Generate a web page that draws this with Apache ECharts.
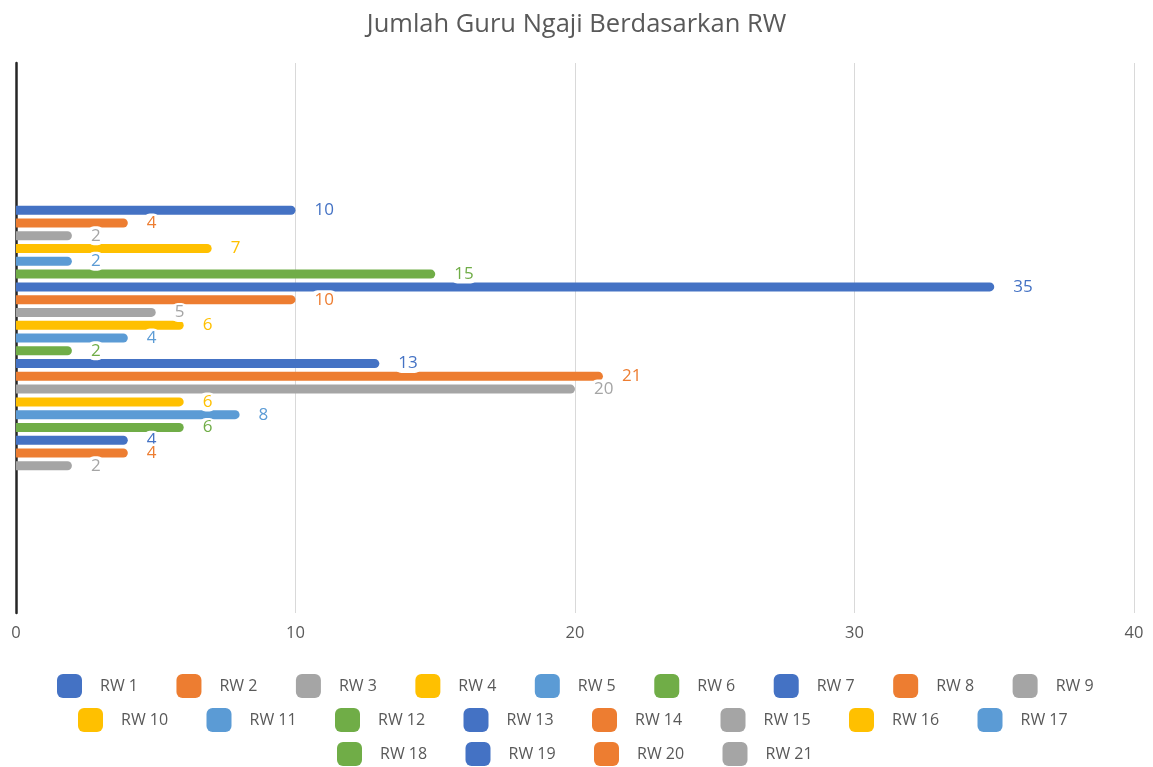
<!DOCTYPE html>
<html>
<head>
<meta charset="utf-8">
<script src="https://cdn.jsdelivr.net/npm/echarts@6/dist/echarts.min.js"></script>
<style>
  html, body { margin: 0; padding: 0; background: #fff; }
  #box { width: 1153px; height: 767px; }
</style>
</head>
<body>
<div id="box"></div>
<script>
// data
const rwNames = ['RW 1', 'RW 2', 'RW 3', 'RW 4', 'RW 5', 'RW 6', 'RW 7', 'RW 8', 'RW 9', 'RW 10',
  'RW 11', 'RW 12', 'RW 13', 'RW 14', 'RW 15', 'RW 16', 'RW 17', 'RW 18', 'RW 19', 'RW 20', 'RW 21'];
const guruCounts = [10, 4, 2, 7, 2, 15, 35, 10, 5, 6, 4, 2, 13, 21, 20, 6, 8, 6, 4, 4, 2];
const xTicks = [0, 10, 20, 30, 40];
const palette = ['#4472C4', '#ED7D31', '#A5A5A5', '#FFC000', '#5B9BD5', '#70AD47'];

let myChart = echarts.init(document.getElementById('box'));

const FONT = '"Open Sans", sans-serif';

let series = rwNames.map((name, i) => {
  const c = palette[i % palette.length];
  return {
    name: name,
    type: 'bar',
    barWidth: 9,
    barGap: '42%',
    itemStyle: { color: c, borderRadius: [0, 4.5, 4.5, 0] },
    label: {
      show: true,
      position: 'right',
      distance: 16,
      color: c,
      fontFamily: FONT,
      fontSize: 17,
      backgroundColor: '#fff',
      padding: [1, 3],
      borderRadius: 6
    },
    data: [guruCounts[i]]
  };
});

// legend rows, laid out like the original (3 lines)
function legendRow(names, left, top, gap) {
  return {
    data: names,
    left: left,
    top: top,
    padding: 0,
    orient: 'horizontal',
    icon: 'roundRect',
    itemWidth: 25,
    itemHeight: 24,
    itemGap: gap,
    selectedMode: false,
    textStyle: {
      color: '#595959',
      fontFamily: FONT,
      fontSize: 16,
      padding: [0, 0, 0, 13]
    }
  };
}

let option = {
  title: {
    text: 'Jumlah Guru Ngaji Berdasarkan RW',
    left: 'center',
    top: 7,
    textStyle: { color: '#595959', fontFamily: FONT, fontSize: 25.5, fontWeight: 'normal' }
  },
  color: palette,
  legend: [
    legendRow(rwNames.slice(0, 9), 57, 674, 38.5),
    legendRow(rwNames.slice(9, 17), 78, 708, 38.4),
    legendRow(rwNames.slice(17), 337, 742, 38.4)
  ],
  grid: { left: 16, right: 19, top: 63, bottom: 154 },
  xAxis: {
    type: 'value',
    min: xTicks[0],
    max: xTicks[xTicks.length - 1],
    interval: 10,
    axisLine: { show: false },
    axisTick: { show: false },
    splitLine: { lineStyle: { color: '#d9d9d9', width: 1 } },
    axisLabel: { color: '#595959', fontFamily: FONT, fontSize: 16.5, margin: 12 }
  },
  yAxis: {
    type: 'category',
    data: [''],
    inverse: true,
    axisLine: { show: true, lineStyle: { color: '#262626', width: 2.5 } },
    axisTick: { show: false },
    axisLabel: { show: false }
  },
  series: series
};

myChart.setOption(option);
</script>
</body>
</html>
